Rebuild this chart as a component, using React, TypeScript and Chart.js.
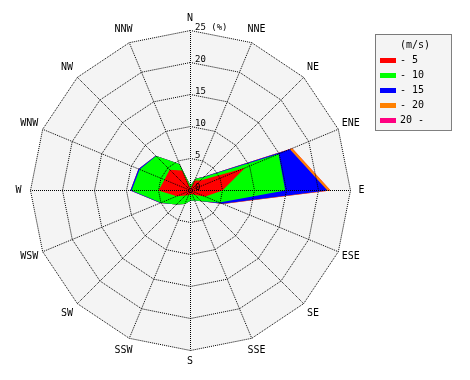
import React, { useEffect, useRef } from "react";
import { Chart, registerables } from "chart.js";

Chart.register(...registerables);

// 16 compass directions, clockwise from north
const directions = ["N", "NNE", "NE", "ENE", "E", "ESE", "SE", "SSE", "S", "SSW", "SW", "WSW", "W", "WNW", "NW", "NNW"];

// wind speed classes (m/s)
const speedLabels = ["- 5", "- 10", "- 15", "- 20", "20 -"];
const speedColors = ["#ff0000", "#00ff00", "#0000ff", "#ff8000", "#ff0080"];

// frequency (%) of each speed class per direction
const speedUpTo5 = [0.3, 1.7, 2.2, 9.2, 5.0, 2.5, 1.0, 0.6, 0.5, 0.8, 1.1, 2.3, 5.0, 4.4, 4.6, 3.4];
const speed5To10 = [0.5, 0.3, 0.8, 5.7, 9.8, 2.4, 1.4, 1.1, 1.1, 1.5, 2.0, 2.7, 4.2, 4.2, 3.0, 1.1];
const speed10To15 = [0.0, 0.0, 0.1, 1.9, 6.6, 0.5, 0.0, 0.0, 0.0, 0.0, 0.0, 0.1, 0.2, 0.2, 0.1, 0.0];
const speed15To20 = [0.0, 0.0, 0.0, 0.4, 0.5, 0.1, 0.0, 0.0, 0.0, 0.0, 0.0, 0.0, 0.0, 0.0, 0.0, 0.0];
const speedOver20 = [0.0, 0.0, 0.0, 0.0, 0.0, 0.0, 0.0, 0.0, 0.0, 0.0, 0.0, 0.0, 0.0, 0.0, 0.0, 0.0];

// radial axis
const radialMax = 25;
const radialStep = 5;
const radialTickValues = [0, 5, 10, 15, 20, 25];
const radialTickLabels = ["0", "5", "10", "15", "20", "25 (%)"];
const legendTitle = "(m/s)";

const MONO = "'DejaVu Sans Mono', monospace";

export default function App() {
  const canvasRef = useRef<HTMLCanvasElement>(null);

  useEffect(() => {
    document.body.style.margin = "0";
    const canvas = canvasRef.current;
    if (!canvas) return;

    const classes = [speedUpTo5, speed5To10, speed10To15, speed15To20, speedOver20];
    const cumulative: number[][] = [];
    classes.forEach((arr, k) => {
      cumulative.push(arr.map((v, i) => (k > 0 ? cumulative[k - 1][i] : 0) + v));
    });

    const datasets = cumulative.map((data, k) => ({
      label: speedLabels[k],
      data,
      backgroundColor: speedColors[k],
      borderColor: "rgba(0,0,0,0)",
      borderWidth: 0,
      pointRadius: 0,
      pointHoverRadius: 0,
      fill: true,
      tension: 0,
    }));

    const windRosePlugin = {
      id: "windRoseDecor",
      beforeDraw(chart: any) {
        // half-pixel shift so that axis-aligned 1px dotted lines stay crisp
        chart.ctx.save();
        chart.ctx.translate(0.5, 0.5);
      },
      beforeDatasetsDraw(chart: any) {
        const scale = chart.scales.r;
        const ctx = chart.ctx;
        ctx.save();
        ctx.beginPath();
        for (let i = 0; i < directions.length; i++) {
          const p = scale.getPointPosition(i, scale.drawingArea);
          if (i === 0) ctx.moveTo(p.x, p.y);
          else ctx.lineTo(p.x, p.y);
        }
        ctx.closePath();
        ctx.fillStyle = "#f4f4f4";
        ctx.fill();
        ctx.restore();
      },
      afterDraw(chart: any) {
        const scale = chart.scales.r;
        const ctx = chart.ctx;
        ctx.restore();
        ctx.save();
        // direction labels
        ctx.fillStyle = "#000";
        ctx.font = `10px ${MONO}`;
        ctx.textAlign = "center";
        ctx.textBaseline = "middle";
        directions.forEach((d, i) => {
          const r = scale.drawingArea + (i % 4 === 0 ? 11.5 : 14);
          const p = scale.getPointPosition(i, r);
          ctx.fillText(d, p.x, p.y);
        });
        // radial tick labels along the north axis
        ctx.font = `9px ${MONO}`;
        ctx.textAlign = "left";
        ctx.textBaseline = "alphabetic";
        radialTickValues.forEach((v, k) => {
          const dist = scale.getDistanceFromCenterForValue(v);
          ctx.fillText(radialTickLabels[k], scale.xCenter + 5, scale.yCenter - dist);
        });
        // legend box
        const bx = 375, by = 34, bw = 76, bh = 96;
        ctx.fillStyle = "#f4f4f4";
        ctx.fillRect(bx, by, bw, bh);
        ctx.strokeStyle = "#000";
        ctx.lineWidth = 1;
        ctx.setLineDash([1, 1]);
        ctx.strokeRect(bx + 0.5, by + 0.5, bw, bh);
        ctx.setLineDash([]);
        ctx.fillStyle = "#000";
        ctx.font = `10px ${MONO}`;
        ctx.textAlign = "center";
        ctx.textBaseline = "middle";
        ctx.fillText(legendTitle, bx + 40, by + 11);
        ctx.textAlign = "left";
        chart.data.datasets.forEach((ds: any, k: number) => {
          const y = by + 26 + k * 15;
          ctx.fillStyle = ds.backgroundColor;
          ctx.fillRect(bx + 5, y - 2, 16, 5);
          ctx.fillStyle = "#000";
          ctx.fillText(ds.label, bx + 25, y + 0.5);
        });
        ctx.restore();
      },
    };

    const chart = new Chart(canvas, {
      type: "radar",
      data: { labels: directions, datasets },
      options: {
        animation: false,
        responsive: false,
        devicePixelRatio: 1,
        events: [],
        layout: { padding: { left: 30, top: 30, right: 120, bottom: 30 } },
        plugins: {
          legend: { display: false },
          tooltip: { enabled: false },
        },
        elements: { line: { borderWidth: 0 }, point: { radius: 0 } },
        scales: {
          r: {
            min: 0,
            max: radialMax,
            startAngle: 0,
            ticks: { display: false, stepSize: radialStep },
            pointLabels: { display: false },
            grid: { color: "#000", lineWidth: 1, z: 1, borderDash: [1, 1] } as any,
            border: { dash: [1, 1], dashOffset: 0.5 } as any,
            angleLines: { color: "#000", lineWidth: 1, borderDash: [1, 1], borderDashOffset: 0.5 },
          },
        },
      } as any,
      plugins: [windRosePlugin],
    });

    return () => chart.destroy();
  }, []);

  return (
    <div style={{ width: 470, height: 380, background: "#fff" }}>
      <canvas ref={canvasRef} width={470} height={380} style={{ display: "block" }} />
    </div>
  );
}
